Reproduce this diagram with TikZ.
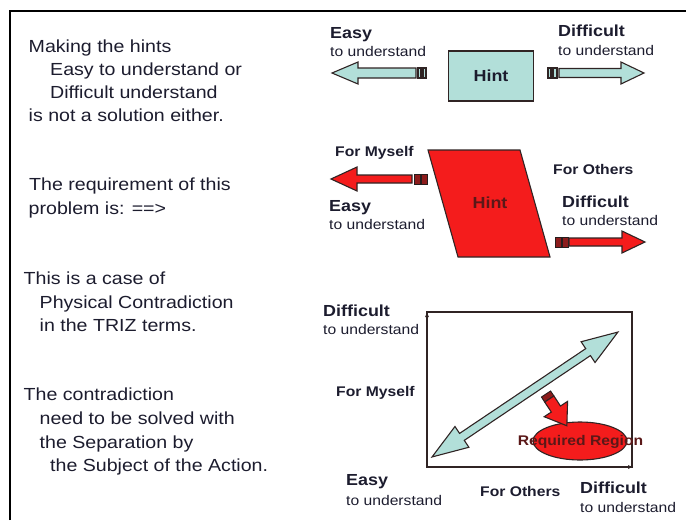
\documentclass[tikz,border=0pt]{standalone}
\usepackage{fontspec}
\setmainfont{Liberation Sans}[FakeStretch=1.12]
\usetikzlibrary{arrows.meta}

\definecolor{ink}{HTML}{1C1C2E}
\definecolor{maroon}{HTML}{5A1818}
\definecolor{teal}{HTML}{B2DFD9}
\definecolor{hot}{HTML}{F41C1C}
\definecolor{tailred}{HTML}{8C1C1C}
\definecolor{edge}{HTML}{302424}

\begin{document}
\begin{tikzpicture}[x=1pt,y=-1pt,
  note/.style={anchor=base west,inner sep=0pt,font=\fontsize{17.5}{21}\selectfont,text=ink},
  bigtag/.style={anchor=base west,inner sep=0pt,font=\fontsize{16}{19}\selectfont\bfseries,text=ink},
  midtag/.style={anchor=base west,inner sep=0pt,font=\fontsize{14}{17}\selectfont\bfseries,text=ink},
  smalltag/.style={anchor=base west,inner sep=0pt,font=\fontsize{14}{17}\selectfont,text=ink},
  tealarrow/.style={fill=teal,draw=edge,line width=1.1pt,line join=miter},
  redarrow/.style={fill=hot,draw=edge,line width=1.1pt,line join=miter},
  tailbar/.style={fill=tailred,draw=edge!80!black,line width=0.9pt},
  frameline/.style={line width=1.5pt,draw=black}
]
\useasboundingbox (0,0) rectangle (686,520);

% page frame (left and top rules)
\draw[frameline] (10,520) -- (10,11) -- (686,11);

% ---- explanatory text ----
\node[note] (m1) at (28.5,52) {Making the hints};
\node[note] (m2) at (50,75) {Easy to understand or};
\node[note] (m3) at (50,98) {Difficult understand};
\node[note] (m4) at (28.5,121) {is not a solution either.};

\node[note] (r1) at (29,190.5) {The requirement of this};
\node[note] (r2) at (28.5,214) {problem is: ==>};

\node[note] (c1) at (23.5,284.5) {This is a case of};
\node[note] (c2) at (39.5,308) {Physical Contradiction};
\node[note] (c3) at (39.5,331) {in the TRIZ terms.};

\node[note] (s1) at (23.5,400.5) {The contradiction};
\node[note] (s2) at (39.5,424.5) {need to be solved with};
\node[note] (s3) at (39.5,448) {the Separation by};
\node[note] (s4) at (50,471.5) {the Subject of the Action.};

% ---- panel 1: one hint, two directions ----
\node[bigtag] (e1) at (330,38) {Easy};
\node[smalltag] (e1b) at (330,56) {to understand};
\node[bigtag] (d1) at (558,36) {Difficult};
\node[smalltag] (d1b) at (558,55) {to understand};

\node[draw=edge,line width=1.2pt,fill=teal,minimum width=85pt,minimum height=50pt,
      inner sep=0pt,font=\fontsize{16}{19}\selectfont\bfseries,text=ink] (hint1) at (491,76) {Hint};

% left striped arrow
\draw[tealarrow] (332,73) -- (358,62) -- (358,68) -- (416,68) -- (416,78) -- (358,78) -- (358,84) -- cycle;
\draw[tealarrow] (418,68) rectangle (421,78);
\draw[tealarrow] (423,68) rectangle (426,78);
% right striped arrow
\draw[tealarrow] (548,68) rectangle (551,78);
\draw[tealarrow] (553,68) rectangle (557,78);
\draw[tealarrow] (559,68.5) -- (621,68.5) -- (621,62) -- (644,73) -- (621,84) -- (621,77.5) -- (559,77.5) -- cycle;

% ---- panel 2: a hint leaning both ways ----
\draw[redarrow] (428,150) -- (520,150) -- (550,257) -- (458,257) -- cycle;
\node[inner sep=0pt,font=\fontsize{16}{19}\selectfont\bfseries,text=maroon] (hint2) at (490,203) {Hint};

\node[midtag] (fm2) at (335,156) {For Myself};
\node[bigtag] (e2) at (329,211.5) {Easy};
\node[smalltag] (e2b) at (329,229) {to understand};
\node[midtag] (fo2) at (553,174) {For Others};
\node[bigtag] (d2) at (562,207) {Difficult};
\node[smalltag] (d2b) at (562,225) {to understand};

% left red arrow
\draw[redarrow] (331,179) -- (357,167) -- (357,175) -- (412,175) -- (412,183) -- (357,183) -- (357,191) -- cycle;
\draw[tailbar] (414,174) rectangle (420,184);
\draw[tailbar] (421,174) rectangle (427,184);
% right red arrow
\draw[tailbar] (555,237) rectangle (561,247);
\draw[tailbar] (562,237) rectangle (568,247);
\draw[redarrow] (569,238) -- (622,238) -- (622,231) -- (645,242) -- (622,253) -- (622,246) -- (569,246) -- cycle;

% ---- panel 3: the two axes ----
\node[bigtag] (d3) at (323,316.5) {Difficult};
\node[smalltag] (d3b) at (323,334) {to understand};
\node[midtag] (fm3) at (336,396) {For Myself};
\node[bigtag] (e3) at (346,485) {Easy};
\node[smalltag] (e3b) at (346,505) {to understand};
\node[midtag] (fo3) at (480,496.5) {For Others};
\node[bigtag] (d4) at (580,493) {Difficult};
\node[smalltag] (d4b) at (580,512.5) {to understand};

\draw[line width=1.2pt,draw=edge] (427,312) rectangle (632,467);
\coordinate (origin) at (427,467);
\coordinate (ytop) at (427,311);
\coordinate (xend) at (634,467);
\draw[line width=1.2pt,draw=edge,-{Latex[length=6pt,width=4pt]}] (origin) -- (ytop);
\draw[line width=1.2pt,draw=edge,-{Latex[length=6pt,width=4pt]}] (origin) -- (xend);

% trade-off line between the two extremes
\begin{scope}[shift={(525,394.5)},rotate=33.9]
  \draw[tealarrow] (-112,0) -- (-76,-12.5) -- (-76,-4.2) -- (76,-4.2) -- (76,-12.5) -- (112,0)
        -- (76,12.5) -- (76,4.2) -- (-76,4.2) -- (-76,12.5) -- cycle;
\end{scope}

% required region
\draw[redarrow] (580,441) ellipse [x radius=47, y radius=19];
\begin{scope}[shift={(546,394)},rotate=-56.7]
  \draw[tailbar] (0,-5.5) rectangle (6,5.5);
  \draw[redarrow] (6,-5.5) -- (18,-5.5) -- (18,-14) -- (38,0) -- (18,14) -- (18,5.5) -- (6,5.5) -- cycle;
\end{scope}
\node[inner sep=0pt,font=\fontsize{14}{17}\selectfont\bfseries,text=maroon] (req) at (580.5,442) {Required Region};

\end{tikzpicture}
\end{document}
